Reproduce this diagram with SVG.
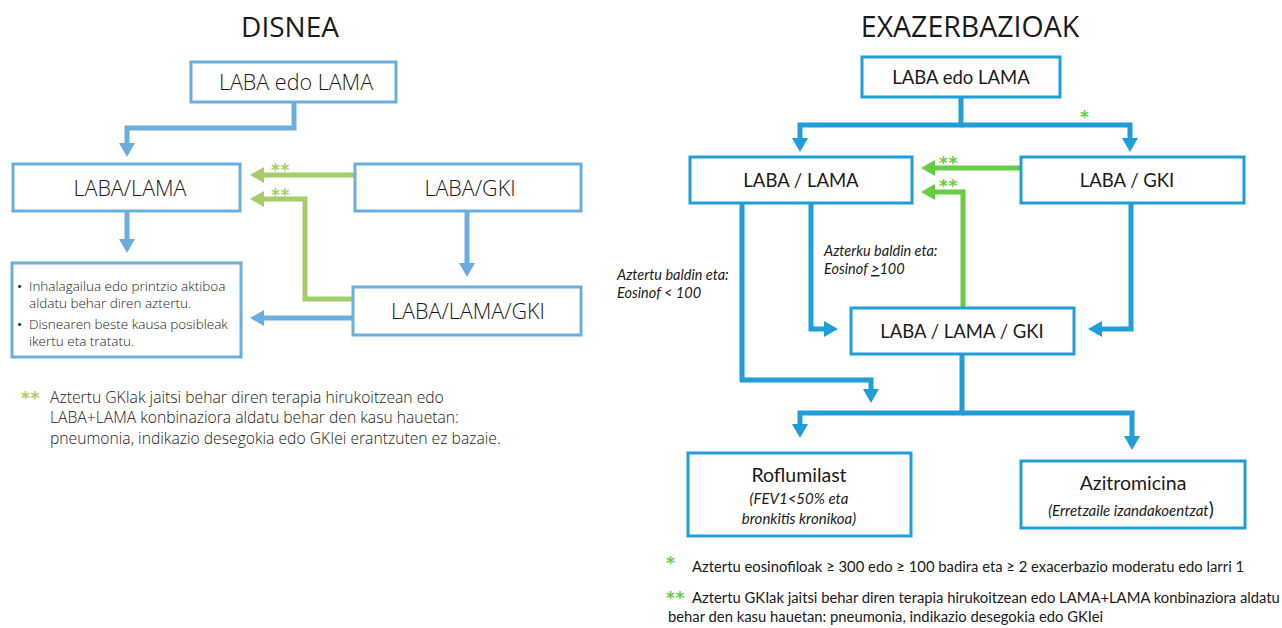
<svg xmlns="http://www.w3.org/2000/svg" width="1282" height="628" viewBox="0 0 1282 628">
<style>
.t{font-family:Lato,"Noto Sans",sans-serif;fill:#1a1a1a}
.L{font-family:"Open Sans",Lato,sans-serif;font-weight:300;fill:#1a1a1a}
.lbox{fill:#fff;stroke:#6aaee0;stroke-width:3}
.rbox{fill:#fff;stroke:#1f9ed8;stroke-width:3}
.lb{fill:none;stroke:#6aaee0;stroke-width:5}
.lg{fill:none;stroke:#a5cd68;stroke-width:5}
.rb{fill:none;stroke:#1f9ed8;stroke-width:5}
.rg{fill:none;stroke:#66cc44;stroke-width:5}
.it{font-style:italic}
.sl{font-family:"DejaVu Sans",sans-serif;font-weight:bold;font-size:17px;letter-spacing:0.5px;fill:#a5cd68}
.sr{font-family:"DejaVu Sans",sans-serif;font-weight:bold;font-size:17px;letter-spacing:0.5px;fill:#66cc44}
</style>
<defs>
<marker id="alb" markerUnits="userSpaceOnUse" markerWidth="16" markerHeight="18" refX="0" refY="8" orient="auto"><path d="M0,0 L14,8 L0,16 z" fill="#6aaee0"/></marker>
<marker id="alg" markerUnits="userSpaceOnUse" markerWidth="16" markerHeight="18" refX="0" refY="8" orient="auto"><path d="M0,0 L14,8 L0,16 z" fill="#a5cd68"/></marker>
<marker id="arb" markerUnits="userSpaceOnUse" markerWidth="16" markerHeight="18" refX="0" refY="8" orient="auto"><path d="M0,0 L14,8 L0,16 z" fill="#1f9ed8"/></marker>
<marker id="arg" markerUnits="userSpaceOnUse" markerWidth="16" markerHeight="18" refX="0" refY="8" orient="auto"><path d="M0,0 L14,8 L0,16 z" fill="#66cc44"/></marker>
</defs>
<rect width="1282" height="628" fill="#fff"/>

<!-- LEFT: DISNEA -->
<text class="L" x="290" y="37" font-size="28" text-anchor="middle" style="font-weight:400">DISNEA</text>

<g id="connectors-left">
<path class="lb" d="M294,102 V128 H127 V143" marker-end="url(#alb)"/>
<path class="lg" d="M355,175 H264" marker-end="url(#alg)"/>
<path class="lg" d="M353,299 H305 V199 H264" marker-end="url(#alg)"/>
<path class="lb" d="M127,211 V239" marker-end="url(#alb)"/>
<path class="lb" d="M467,211 V263" marker-end="url(#alb)"/>
<path class="lb" d="M353,318 H264" marker-end="url(#alb)"/>
<text class="sl" x="271" y="176">**</text>
<text class="sl" x="271" y="201">**</text>
</g>

<g id="l-laba-edo-lama">
<rect class="lbox" x="191" y="62" width="205" height="40"/>
<text class="L" x="296" y="90" font-size="21.5" text-anchor="middle">LABA edo LAMA</text>
</g>
<g id="l-laba-lama">
<rect class="lbox" x="13" y="164" width="227" height="47"/>
<text class="L" x="130" y="196" font-size="21.5" text-anchor="middle">LABA/LAMA</text>
</g>
<g id="l-laba-gki">
<rect class="lbox" x="355" y="164" width="226" height="47"/>
<text class="L" x="470" y="196" font-size="21.5" text-anchor="middle">LABA/GKI</text>
</g>
<g id="l-laba-lama-gki">
<rect class="lbox" x="353" y="287" width="228" height="48"/>
<text class="L" x="468" y="319" font-size="21.5" text-anchor="middle">LABA/LAMA/GKI</text>
</g>
<g id="l-bullets">
<rect class="lbox" x="12" y="263" width="229" height="94"/>
<text class="L" font-size="13.5">
<tspan x="17" y="291" style="font-weight:400">•</tspan><tspan x="29" y="291">Inhalagailua edo printzio aktiboa</tspan>
<tspan x="29" y="308">aldatu behar diren aztertu.</tspan>
<tspan x="17" y="329" style="font-weight:400">•</tspan><tspan x="29" y="329">Disnearen beste kausa posibleak</tspan>
<tspan x="29" y="346">ikertu eta tratatu.</tspan>
</text>
</g>
<g id="l-footnote">
<text class="sl" x="21" y="404">**</text>
<text class="L" font-size="15.7">
<tspan x="50" y="403">Aztertu GKIak jaitsi behar diren terapia hirukoitzean edo</tspan>
<tspan x="50" y="423">LABA+LAMA konbinaziora aldatu behar den kasu hauetan:</tspan>
<tspan x="50" y="444">pneumonia, indikazio desegokia edo GKIei erantzuten ez bazaie.</tspan>
</text>
</g>

<!-- RIGHT: EXAZERBAZIOAK -->
<text class="L" x="970" y="37" font-size="28.5" text-anchor="middle" style="font-weight:400">EXAZERBAZIOAK</text>

<g id="connectors-right">
<path class="rb" d="M961,97 V125 H800 V138" marker-end="url(#arb)"/>
<path class="rb" d="M961,125 H1130 V138" marker-end="url(#arb)"/>
<path class="rg" d="M1021,168 H935" marker-end="url(#arg)"/>
<path class="rg" d="M963,308 V192 H935" marker-end="url(#arg)"/>
<path class="rb" d="M742,203 V380 H871 V389" marker-end="url(#arb)"/>
<path class="rb" d="M811,203 V329 H824" marker-end="url(#arb)"/>
<path class="rb" d="M1131,203 V329 H1102" marker-end="url(#arb)"/>
<path class="rb" d="M962,354 V413 H800 V424" marker-end="url(#arb)"/>
<path class="rb" d="M962,413 H1132 V436" marker-end="url(#arb)"/>
<text class="sr" x="1080" y="123">*</text>
<text class="sr" x="939" y="169">**</text>
<text class="sr" x="939" y="192">**</text>
<text class="t it" font-size="14.5">
<tspan x="617" y="280">Aztertu baldin eta:</tspan>
<tspan x="617" y="298">Eosinof &lt; 100</tspan>
</text>
<text class="t it" font-size="14.5">
<tspan x="824" y="256">Azterku baldin eta:</tspan>
<tspan x="824" y="274">Eosinof <tspan text-decoration="underline">&gt;</tspan>100</tspan>
</text>
</g>

<g id="r-laba-edo-lama">
<rect class="rbox" x="862" y="57" width="198" height="40"/>
<text class="t" x="961" y="84" font-size="18.5" text-anchor="middle">LABA edo LAMA</text>
</g>
<g id="r-laba-lama">
<rect class="rbox" x="690" y="157" width="222" height="46"/>
<text class="t" x="801" y="187" font-size="18.5" text-anchor="middle">LABA / LAMA</text>
</g>
<g id="r-laba-gki">
<rect class="rbox" x="1021" y="157" width="223" height="46"/>
<text class="t" x="1127" y="187" font-size="18.5" text-anchor="middle">LABA / GKI</text>
</g>
<g id="r-laba-lama-gki">
<rect class="rbox" x="851" y="308" width="223" height="46"/>
<text class="t" x="962" y="338" font-size="18.5" text-anchor="middle">LABA / LAMA / GKI</text>
</g>
<g id="r-roflumilast">
<rect class="rbox" x="688" y="453" width="223" height="83"/>
<text class="t" x="799" y="482" font-size="19.5" text-anchor="middle">Roflumilast</text>
<text class="t it" x="799" y="504" font-size="15" text-anchor="middle">(FEV1&lt;50% eta</text>
<text class="t it" x="799" y="524" font-size="15" text-anchor="middle">bronkitis kronikoa)</text>
</g>
<g id="r-azitromicina">
<rect class="rbox" x="1021" y="461" width="224" height="67"/>
<text class="t" x="1133" y="490" font-size="19.5" text-anchor="middle">Azitromicina</text>
<text class="t" x="1131" y="516" font-size="15" text-anchor="middle"><tspan font-style="italic">(Erretzaile izandakoentzat</tspan><tspan font-size="19">)</tspan></text>
</g>
<g id="r-footnotes">
<text class="sr" x="666" y="569">*</text>
<text class="t" x="692" y="572" font-size="14.8">Aztertu eosinofiloak ≥ 300 edo ≥ 100 badira eta ≥ 2 exacerbazio moderatu edo larri 1</text>
<text class="sr" x="666" y="604">**</text>
<text class="t" x="692" y="603" font-size="14.8">Aztertu GKIak jaitsi behar diren terapia hirukoitzean edo LAMA+LAMA konbinaziora aldatu</text>
<text class="t" x="668" y="622" font-size="14.8">behar den kasu hauetan: pneumonia, indikazio desegokia edo GKIei</text>
</g>
</svg>
